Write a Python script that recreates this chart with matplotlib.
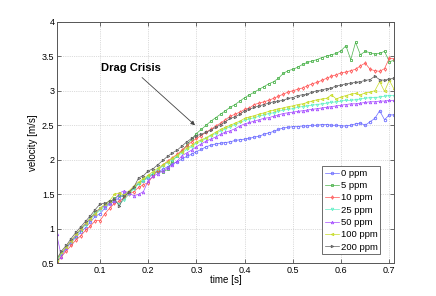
import numpy as np
import matplotlib
matplotlib.use("Agg")
import matplotlib.pyplot as plt

plt.rcParams["font.family"] = ["Liberation Sans", "DejaVu Sans"]

# sample times [s]
time = np.round(np.arange(0.01, 0.7101, 0.01), 3)

v_0ppm = [0.55, 0.64, 0.72, 0.80, 0.88, 0.95, 1.02, 1.10, 1.18, 1.22,
          1.30, 1.36, 1.40, 1.45, 1.50, 1.54, 1.60, 1.66, 1.70, 1.74,
          1.79, 1.83, 1.86, 1.90, 1.94, 1.97, 2.01, 2.05, 2.08, 2.12,
          2.15, 2.19, 2.21, 2.23, 2.24, 2.25, 2.26, 2.28, 2.29, 2.30,
          2.31, 2.33, 2.34, 2.37, 2.39, 2.41, 2.44, 2.46, 2.47, 2.48,
          2.48, 2.49, 2.49, 2.50, 2.50, 2.51, 2.51, 2.50, 2.50, 2.49,
          2.49, 2.50, 2.52, 2.53, 2.50, 2.55, 2.60, 2.71, 2.58, 2.65, 2.65]
v_5ppm = [0.54, 0.64, 0.73, 0.82, 0.90, 0.99, 1.07, 1.16, 1.24, 1.30,
          1.34, 1.38, 1.44, 1.49, 1.46, 1.53, 1.59, 1.66, 1.71, 1.76,
          1.80, 1.84, 1.82, 1.86, 1.98, 2.06, 2.13, 2.21, 2.30, 2.38,
          2.44, 2.50, 2.56, 2.61, 2.66, 2.71, 2.76, 2.80, 2.85, 2.90,
          2.94, 2.98, 3.02, 3.06, 3.10, 3.13, 3.18, 3.25, 3.29, 3.31,
          3.34, 3.38, 3.41, 3.43, 3.45, 3.48, 3.50, 3.52, 3.54, 3.58,
          3.65, 3.45, 3.70, 3.52, 3.57, 3.55, 3.53, 3.54, 3.57, 3.42, 3.44]
v_10ppm = [0.52, 0.60, 0.68, 0.76, 0.84, 0.90, 0.98, 1.04, 1.12, 1.12,
           1.22, 1.30, 1.37, 1.40, 1.45, 1.50, 1.54, 1.60, 1.64, 1.67,
           1.77, 1.85, 1.92, 1.98, 2.03, 2.08, 2.14, 2.20, 2.26, 2.31,
           2.35, 2.40, 2.44, 2.49, 2.53, 2.58, 2.63, 2.66, 2.69, 2.73,
           2.75, 2.80, 2.82, 2.84, 2.86, 2.89, 2.92, 2.95, 2.98, 3.00,
           3.02, 3.04, 3.07, 3.10, 3.12, 3.15, 3.18, 3.21, 3.23, 3.26,
           3.27, 3.29, 3.31, 3.36, 3.40, 3.31, 3.29, 3.28, 3.32, 3.47, 3.46]
v_25ppm = [0.54, 0.64, 0.72, 0.81, 0.90, 0.99, 1.06, 1.14, 1.21, 1.27,
           1.32, 1.37, 1.41, 1.36, 1.42, 1.50, 1.58, 1.65, 1.70, 1.75,
           1.81, 1.86, 1.91, 1.96, 2.00, 2.05, 2.10, 2.15, 2.19, 2.24,
           2.27, 2.31, 2.35, 2.38, 2.42, 2.45, 2.48, 2.51, 2.54, 2.57,
           2.59, 2.61, 2.63, 2.65, 2.67, 2.68, 2.70, 2.72, 2.73, 2.74,
           2.76, 2.77, 2.78, 2.79, 2.80, 2.81, 2.82, 2.83, 2.84, 2.85,
           2.86, 2.86, 2.87, 2.88, 2.89, 2.90, 2.90, 2.91, 2.92, 2.93, 2.93]
v_50ppm = [0.92, 0.60, 0.72, 0.82, 0.91, 1.00, 1.08, 1.15, 1.22, 1.30,
           1.33, 1.37, 1.40, 1.52, 1.55, 1.52, 1.48, 1.50, 1.54, 1.70,
           1.76, 1.80, 1.84, 1.88, 1.93, 1.98, 2.06, 2.10, 2.14, 2.19,
           2.23, 2.27, 2.30, 2.33, 2.37, 2.40, 2.42, 2.45, 2.49, 2.52,
           2.54, 2.56, 2.58, 2.60, 2.61, 2.63, 2.65, 2.67, 2.68, 2.69,
           2.70, 2.71, 2.72, 2.73, 2.74, 2.75, 2.76, 2.77, 2.78, 2.79,
           2.80, 2.81, 2.81, 2.82, 2.83, 2.84, 2.84, 2.85, 2.85, 2.86, 2.86]
v_100ppm = [0.55, 0.66, 0.74, 0.83, 0.92, 1.00, 1.08, 1.15, 1.22, 1.30,
            1.36, 1.41, 1.50, 1.52, 1.49, 1.55, 1.62, 1.68, 1.73, 1.78,
            1.83, 1.88, 1.93, 1.97, 2.02, 2.07, 2.12, 2.17, 2.21, 2.26,
            2.29, 2.32, 2.36, 2.40, 2.44, 2.47, 2.50, 2.53, 2.56, 2.60,
            2.62, 2.64, 2.66, 2.68, 2.70, 2.72, 2.74, 2.75, 2.77, 2.78,
            2.80, 2.81, 2.83, 2.85, 2.87, 2.88, 2.89, 2.94, 2.88, 2.91,
            2.93, 2.95, 2.96, 2.94, 2.97, 2.98, 3.00, 3.13, 2.99, 3.15, 3.02]
v_200ppm = [0.56, 0.68, 0.76, 0.86, 0.95, 1.03, 1.11, 1.19, 1.28, 1.36,
            1.37, 1.40, 1.43, 1.33, 1.47, 1.53, 1.60, 1.74, 1.77, 1.84,
            1.87, 1.93, 1.99, 2.05, 2.10, 2.14, 2.20, 2.26, 2.31, 2.35,
            2.37, 2.40, 2.43, 2.47, 2.51, 2.55, 2.60, 2.62, 2.66, 2.71,
            2.73, 2.76, 2.78, 2.80, 2.82, 2.84, 2.85, 2.86, 2.89, 2.90,
            2.93, 2.94, 2.95, 2.98, 3.00, 3.01, 3.03, 3.04, 3.07, 3.08,
            3.10, 3.11, 3.12, 3.13, 3.15, 3.16, 3.21, 3.16, 3.15, 3.17, 3.18]

labels = ["0 ppm", "5 ppm", "10 ppm", "25 ppm", "50 ppm", "100 ppm", "200 ppm"]
series = [v_0ppm, v_5ppm, v_10ppm, v_25ppm, v_50ppm, v_100ppm, v_200ppm]
colors = ["#6b6bff", "#4cb34c", "#ff5555", "#66f0c8", "#a64dff", "#c8dc28", "#606060"]
markers = ["o", "s", "d", "v", "^", "<", ">"]

fig = plt.figure(figsize=(4.36, 2.96), dpi=100)
ax = fig.add_axes([0.131, 0.110, 0.773, 0.817])

for v, lab, c, m in zip(series, labels, colors, markers):
    ax.plot(time, v, "-", marker=m, color=c, lw=0.5, ms=1.8, mfc="none",
            mew=0.6, label=lab)

ax.annotate("Drag Crisis", xy=(0.297, 2.50), xytext=(0.165, 3.33),
            fontsize=8, fontweight="bold", ha="center", va="center",
            arrowprops=dict(arrowstyle="-|>", color="#444444", lw=0.6,
                            mutation_scale=6, shrinkA=2, shrinkB=0))

ax.set_xlim(0.011, 0.71)
ax.set_ylim(0.5, 4)
ax.set_xticks([0.1, 0.2, 0.3, 0.4, 0.5, 0.6, 0.7])
ax.set_yticks([0.5, 1, 1.5, 2, 2.5, 3, 3.5, 4])
ax.set_yticklabels(["0.5", "1", "1.5", "2", "2.5", "3", "3.5", "4"])
ax.tick_params(direction="in", length=3, width=0.5, labelsize=6.5, pad=2,
               top=True, right=True, colors="#333333", labelcolor="black")
for s in ax.spines.values():
    s.set_linewidth(0.7)
    s.set_color("#555555")
ax.grid(True, ls=":", lw=0.5, color="#bbbbbb")
ax.set_xlabel("time [s]", fontsize=7, labelpad=0)
ax.set_ylabel("velocity [m/s]", fontsize=7, labelpad=3)

leg = ax.legend(loc="lower right", bbox_to_anchor=(0.959, 0.037),
                fontsize=6.8, fancybox=False, framealpha=1, edgecolor="#555555",
                handlelength=1.5, handletextpad=0.2, labelspacing=0.35,
                borderpad=0.3, borderaxespad=0)
leg.get_frame().set_linewidth(0.6)

fig.savefig("out.png", dpi=100)
